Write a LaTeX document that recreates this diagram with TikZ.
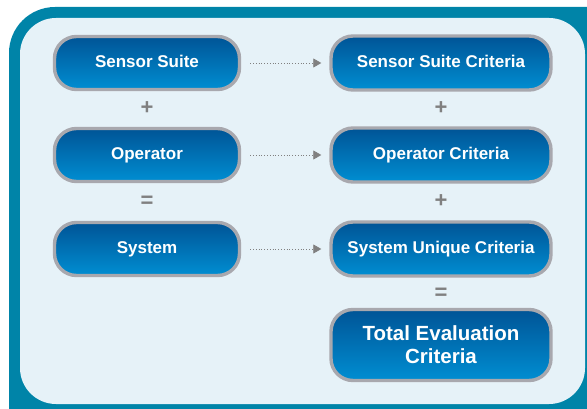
\documentclass[tikz,border=0pt]{standalone}
\usepackage{fontspec}
\setmainfont{Liberation Sans}
\usetikzlibrary{arrows.meta}

\definecolor{frameteal}{RGB}{0,132,168}
\definecolor{panelbg}{RGB}{230,242,248}
\definecolor{boxtop}{RGB}{0,84,150}
\definecolor{boxbot}{RGB}{0,142,210}
\definecolor{boxrim}{RGB}{168,168,174}
\definecolor{signgray}{RGB}{128,128,128}

\begin{document}
\begin{tikzpicture}
[x=1pt,y=-1pt,
	critbox/.style={shape=rectangle,rounded corners=22pt,draw=boxrim,line width=3.4pt,
		top color=boxtop,bottom color=boxbot,text=white,
		font=\fontsize{17}{20}\selectfont\bfseries,align=center,inner sep=2pt},
	oneline/.style={text height=12pt,text depth=2pt},
	leftbox/.style={critbox,oneline,minimum width=185pt,minimum height=53pt},
	rightbox/.style={critbox,minimum width=220pt,minimum height=54pt},
	sign/.style={text=signgray,font=\fontsize{22}{22}\selectfont\bfseries,inner sep=0pt},
	flow/.style={dotted,thick,draw=signgray,-{Triangle[length=8pt,width=9pt]},
		shorten <=9pt,shorten >=8pt}]
\clip (0,0) rectangle (587,409);
% frame
\fill[frameteal,rounded corners=46pt] (9,7) rectangle (640,460);
\fill[panelbg,rounded corners=36pt] (20,18) rectangle (585,404);

\node[leftbox] (sensor) at (147,63) {Sensor Suite};
\node[leftbox] (operator) at (147,155) {Operator};
\node[leftbox] (system) at (147,249) {System};

\node[rightbox,oneline] (sensorcrit) at (441,63) {Sensor Suite Criteria};
\node[rightbox,oneline] (operatorcrit) at (441,155) {Operator Criteria};
\node[rightbox,oneline] (uniquecrit) at (441,249) {System Unique Criteria};
\node[rightbox,minimum height=71pt,font=\fontsize{20.5}{23}\selectfont\bfseries] (total) at (441,345) {Total Evaluation\\Criteria};

\node[sign] (plusa) at (147,108) {+};
\node[sign] (eqa) at (147,202) {=};
\node[sign] (plusb) at (441,108) {+};
\node[sign] (plusc) at (441,201) {+};
\node[sign] (eqb) at (441,294) {=};

\path
\foreach \startNode/\endNode in {sensor/sensorcrit, operator/operatorcrit, system/uniquecrit}
{
	(\startNode) edge[flow] (\endNode)
};
\end{tikzpicture}
\end{document}
